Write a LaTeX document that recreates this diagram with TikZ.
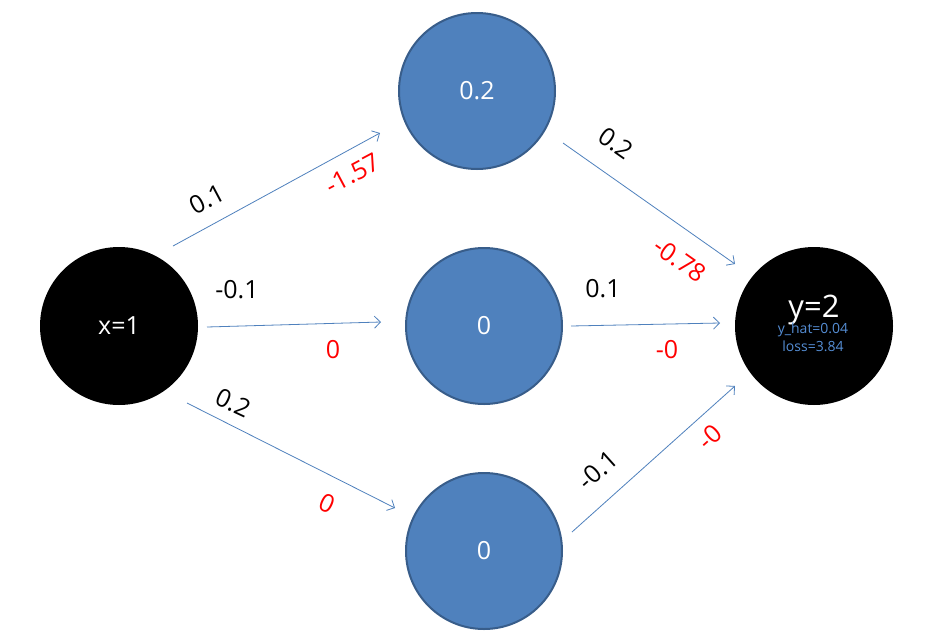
\documentclass[tikz,border=0pt]{standalone}
\usepackage{fontspec}
\setmainfont{Open Sans}
\usetikzlibrary{arrows.meta}
\definecolor{nodeblue}{HTML}{4F81BD}
\definecolor{nodeedge}{HTML}{385D8A}
\definecolor{lblred}{HTML}{FF0000}
\definecolor{txtblue}{HTML}{558ED5}
\tikzset{
  blacknode/.style={circle,fill=black,draw=none,minimum size=158pt,inner sep=0pt,text=white,font=\fontsize{25}{28}\selectfont},
  bluenode/.style={circle,fill=nodeblue,draw=nodeedge,line width=2pt,minimum size=156pt,inner sep=0pt,text=white,font=\fontsize{25}{28}\selectfont},
  conn/.style={draw=nodeblue,line width=0.8pt,-{Straight Barb[length=6pt,width=12pt,line width=0.8pt]}},
  wlbl/.style={text=black,font=\fontsize{25}{28}\selectfont,inner sep=0pt},
  glbl/.style={text=lblred,font=\fontsize{25}{28}\selectfont,inner sep=0pt}
}
\begin{document}
\begin{tikzpicture}[x=1pt,y=-1pt]
\useasboundingbox (0,0) rectangle (943,635);
\fill[white] (0,0) rectangle (943,635);
% nodes
\node[blacknode] (x) at (119,326) {x=1};
\node[bluenode] (h1) at (477,91) {0.2};
\node[bluenode] (h2) at (484,326) {0};
\node[bluenode] (h3) at (484,551) {0};
\node[blacknode] (y) at (814,326) {};
\node[text=white,font=\fontsize{31}{34}\selectfont,inner sep=0pt] (ylbl) at (814,310) {y=2};
\node[text=txtblue,font=\fontsize{14}{16}\selectfont,inner sep=0pt] (yhat) at (813,330) {y\_hat=0.04};
\node[text=txtblue,font=\fontsize{14}{16}\selectfont,inner sep=0pt] (loss) at (813,346) {loss=3.84};
% connector end points
\coordinate (a1s) at (173,246);
\coordinate (a1e) at (380,133);
\coordinate (a2s) at (207,327);
\coordinate (a2e) at (381,322);
\coordinate (a3s) at (187,403);
\coordinate (a3e) at (395,508);
\coordinate (b1s) at (563,143);
\coordinate (b1e) at (735,264);
\coordinate (b2s) at (571,326);
\coordinate (b2e) at (720,323);
\coordinate (b3s) at (572,532);
\coordinate (b3e) at (735,386);
% connectors
\draw[conn] (a1s) -- (a1e);
\draw[conn] (a2s) -- (a2e);
\draw[conn] (a3s) -- (a3e);
\draw[conn] (b1s) -- (b1e);
\draw[conn] (b2s) -- (b2e);
\draw[conn] (b3s) -- (b3e);
% labels
\node[wlbl,rotate=28] (w1) at (207,199) {0.1};
\node[glbl,rotate=28] (g1) at (353,174) {-1.57};
\node[wlbl] (w2) at (237,290) {-0.1};
\node[glbl] (g2) at (333,350) {0};
\node[wlbl,rotate=-25] (w3) at (233,403) {0.2};
\node[glbl,rotate=-25] (g3) at (327,503) {0};
\node[wlbl,rotate=-35] (w4) at (616,143) {0.2};
\node[glbl,rotate=-35] (g4) at (680,260) {-0.78};
\node[wlbl] (w5) at (603,289) {0.1};
\node[glbl] (g5) at (667,350) {-0};
\node[wlbl,rotate=42] (w6) at (598,470) {-0.1};
\node[glbl,rotate=42] (g6) at (710,437) {-0};
\end{tikzpicture}
\end{document}
